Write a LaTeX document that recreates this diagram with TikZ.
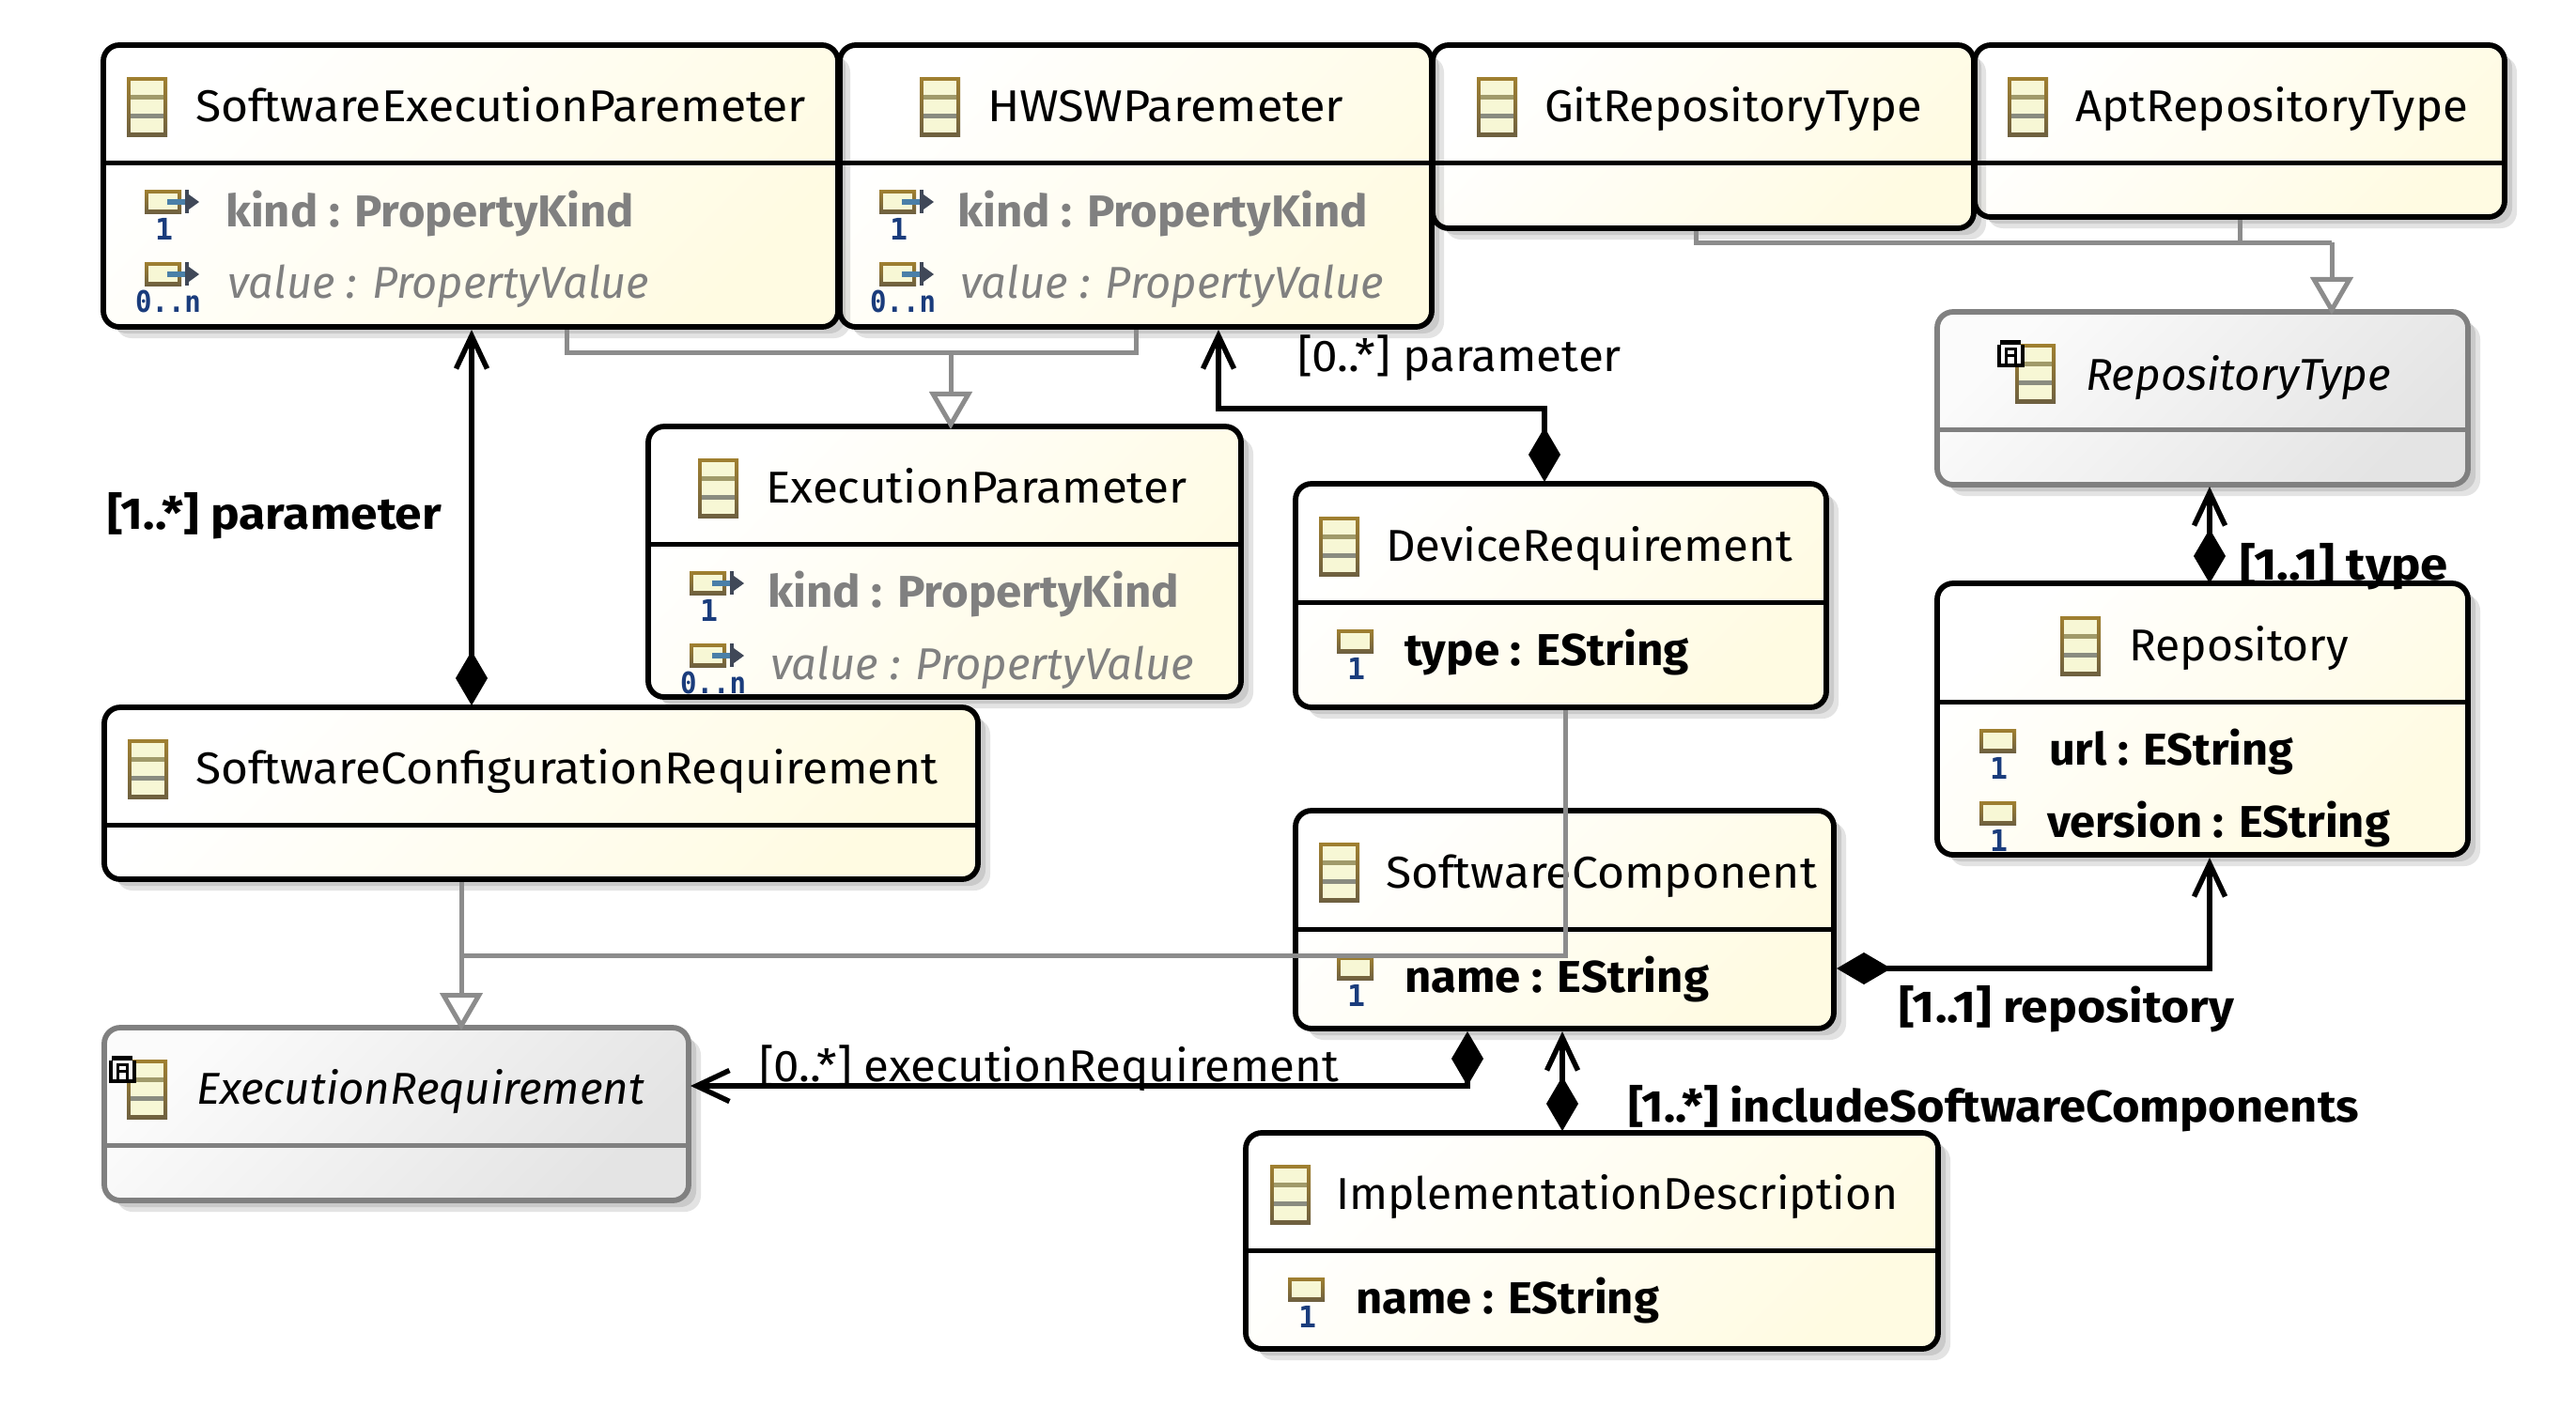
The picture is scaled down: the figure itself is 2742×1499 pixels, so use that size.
\documentclass[tikz,border=0pt]{standalone}
\usepackage{graphicx}
\usepackage{fontspec}
\setmainfont{Fira Sans}
\newfontfamily\multfont{DejaVu Sans Mono}
\usetikzlibrary{calc,shadows,arrows.meta}
\definecolor{yelend}{HTML}{FFFBE2}
\definecolor{grayend}{HTML}{E4E4E4}
\definecolor{graystart}{HTML}{FBFBFB}
\definecolor{edgegray}{HTML}{808080}
\definecolor{connector}{HTML}{8C8C8C}
\definecolor{attrgray}{HTML}{808080}
\definecolor{iconfill}{HTML}{F7F7D5}
\definecolor{icontop}{HTML}{A08030}
\definecolor{iconbot}{HTML}{6E6040}
\definecolor{iconbarA}{HTML}{A09A6A}
\definecolor{iconbarB}{HTML}{8A8C80}
\definecolor{multblue}{HTML}{1A3C7C}
\definecolor{arrblue}{HTML}{4A7FA8}
\definecolor{arrdark}{HTML}{404858}
\newcommand\basefnt{\fontsize{13.5}{16}\selectfont}
\newcount\umltc
\tikzset{
  x=0.01cm,y=-0.01cm,
  boxbase/.style={draw,line width=0.058cm,rounded corners=0.17cm,inner sep=0,outer sep=0,anchor=north west,
    general shadow={shadow xshift=0.13cm,shadow yshift=-0.12cm,fill=black,opacity=.11},
    general shadow={shadow xshift=0.08cm,shadow yshift=-0.07cm,fill=black,opacity=.11}},
  yelbox/.style={boxbase,draw=black,top color=white,bottom color=yelend,shading angle=45},
  absbox/.style={boxbase,draw=edgegray,top color=graystart,bottom color=grayend,shading angle=45},
  txt/.style={inner sep=0,outer sep=0,anchor=base west,font=\basefnt},
  btxt/.style={txt,font=\basefnt\bfseries},
  itxt/.style={txt,font=\basefnt\itshape},
  gtxt/.style={btxt,text=attrgray},
  vtxt/.style={itxt,text=attrgray},
  multxt/.style={inner sep=0,outer sep=0,anchor=base west,text=multblue,font=\fontsize{9}{10}\multfont\bfseries},
  assoc/.style={draw=black,line width=0.055cm},
  diabarb/.style={{Diamond[length=0.58cm,width=0.34cm,fill=black]}-{Straight Barb[length=0.35cm,width=0.33cm,line width=0.055cm]}},
  genline/.style={draw=connector,line width=0.05cm},
  gen/.style={genline,-{Triangle[open,fill=white,length=0.40cm,width=0.45cm,line width=0.05cm]}},
}
% name, x1, y1, x2, y2, divider y, colour style
\newcommand\umlbox[7]{%
  \node[#7,minimum width={(#4-#2-3)*0.01cm},minimum height={(#5-#3-3)*0.01cm}] (#1) at ({#2+2},{#3+1}) {};
  \draw[line width=0.05cm,draw=#1col] ({#2+4},#6) -- ({#4-3},#6);
}
% x1,x2,baseline,text
\newcommand\tx[5][txt]{%
  \global\advance\umltc by 1
  \pgfmathsetlengthmacro\tmpw{((#3)-(#2))*0.01cm}%
  \node[#1] (t\the\umltc) at ({#2},{#4}) {\resizebox{\tmpw}{\height}{#5}};
}
\newcommand\classicon[2]{%
  \shade[top color=icontop,bottom color=iconbot] (#1,#2) rectangle ({#1+43},{#2+63});
  \fill[iconfill] ({#1+4},{#2+4}) rectangle ({#1+39},{#2+59});
  \fill[iconbarA] ({#1+4},{#2+19}) rectangle ({#1+39},{#2+24});
  \fill[iconbarB] ({#1+4},{#2+39}) rectangle ({#1+39},{#2+44});
}
\newcommand\absmark[2]{%
  \fill[black] ({#1+3},#2) rectangle ({#1+25},{#2+5});
  \fill[black] (#1,{#2+5}) rectangle ({#1+29},{#2+29});
  \fill[white] ({#1+4},{#2+5}) rectangle ({#1+25},{#2+25});
  \fill[black] ({#1+8},{#2+8}) rectangle ({#1+21},{#2+11});
  \fill[black] ({#1+8},{#2+15}) rectangle ({#1+21},{#2+18});
  \fill[black] ({#1+8},{#2+8}) rectangle ({#1+11},{#2+25});
  \fill[black] ({#1+18},{#2+8}) rectangle ({#1+21},{#2+25});
}
% x, baseline of row
\newcommand\attricon[2]{%
  \shade[top color=icontop,bottom color=iconbot] (#1,{#2-38}) rectangle ({#1+39},{#2-13});
  \fill[iconfill] ({#1+4},{#2-34}) rectangle ({#1+35},{#2-17});
}
\newcommand\attrarrow[2]{%
  \fill[arrblue] ({#1+24},{#2-28}) rectangle ({#1+44},{#2-22});
  \fill[arrdark] ({#1+43},{#2-38}) rectangle ({#1+47},{#2-13});
  \fill[arrdark] ({#1+47},{#2-33}) -- ({#1+58},{#2-25}) -- ({#1+47},{#2-17}) -- cycle;
}
\newcommand\multone[2]{\tx[multxt]{#1+11}{#1+30}{#2+15}{1}}
\newcommand\multmany[2]{\tx[multxt]{#1-10}{#1+60}{#2+15}{0..n}}
\colorlet{aptcol}{black}\colorlet{gitcol}{black}\colorlet{hwcol}{black}\colorlet{sepcol}{black}
\colorlet{excol}{black}\colorlet{devcol}{black}\colorlet{repocol}{black}\colorlet{cfgcol}{black}
\colorlet{compcol}{black}\colorlet{implcol}{black}
\colorlet{rtcol}{edgegray}\colorlet{ercol}{edgegray}
\begin{document}
\begin{tikzpicture}
\useasboundingbox (0,0) rectangle (2742,1499);
\fill[white] (0,0) rectangle (2742,1499);

% boxes
\umlbox{apt}{2100}{47}{2667}{233}{173}{yelbox}
\umlbox{git}{1523}{47}{2102}{245}{173}{yelbox}
\umlbox{hw}{892}{47}{1525}{350}{173}{yelbox}
\umlbox{sep}{108}{47}{893}{350}{173}{yelbox}
\umlbox{rt}{2060}{331}{2628}{518}{457}{absbox}
\umlbox{ex}{688}{453}{1322}{744}{579}{yelbox}
\umlbox{dev}{1377}{514}{1945}{755}{641}{yelbox}
\umlbox{repo}{2060}{620}{2628}{912}{747}{yelbox}
\umlbox{cfg}{109}{752}{1042}{938}{878}{yelbox}
\umlbox{comp}{1377}{862}{1953}{1097}{989}{yelbox}
\umlbox{er}{109}{1093}{734}{1280}{1219}{absbox}
\umlbox{impl}{1324}{1205}{2064}{1438}{1331}{yelbox}

% class icons
\classicon{135}{82}\classicon{979}{82}\classicon{1572}{82}\classicon{2137}{82}
\classicon{2145}{366}\absmark{2126}{362}
\classicon{743}{488}\classicon{1404}{550}\classicon{2193}{656}\classicon{136}{787}
\classicon{1404}{897}\classicon{135}{1128}\absmark{116}{1124}\classicon{1352}{1240}

% class names
\tx{208}{858}{129}{SoftwareExecutionParemeter}
\tx{1051}{1430}{129}{HWSWParemeter}
\tx{1644}{2046}{129}{GitRepositoryType}
\tx{2209}{2627}{129}{AptRepositoryType}
\tx[itxt]{2220}{2545}{415}{RepositoryType}
\tx{815}{1263}{535}{ExecutionParameter}
\tx{1475}{1908}{597}{DeviceRequirement}
\tx{2266}{2500}{703}{Repository}
\tx{208}{998}{834}{SoftwareConfigurationRequirement}
\tx{1475}{1934}{945}{SoftwareComponent}
\tx[itxt]{209}{686}{1175}{ExecutionRequirement}
\tx{1422}{2020}{1287}{ImplementationDescription}

% attributes
\attricon{154}{240}\attrarrow{154}{240}\multone{154}{240}\tx[gtxt]{240}{675}{241}{kind : PropertyKind}
\attricon{154}{317}\attrarrow{154}{317}\multmany{154}{317}\tx[vtxt]{242}{691}{317}{value : PropertyValue}
\attricon{936}{240}\attrarrow{936}{240}\multone{936}{240}\tx[gtxt]{1019}{1456}{241}{kind : PropertyKind}
\attricon{936}{317}\attrarrow{936}{317}\multmany{936}{317}\tx[vtxt]{1022}{1473}{317}{value : PropertyValue}
\attricon{734}{646}\attrarrow{734}{646}\multone{734}{646}\tx[gtxt]{817}{1255}{646}{kind : PropertyKind}
\attricon{734}{723}\attrarrow{734}{723}\multmany{734}{723}\tx[vtxt]{820}{1271}{723}{value : PropertyValue}
\attricon{1423}{708}\multone{1423}{708}\tx[btxt]{1495}{1798}{708}{type : EString}
\attricon{2107}{814}\multone{2107}{814}\tx[btxt]{2181}{2441}{814}{url : EString}
\attricon{2107}{891}\multone{2107}{891}\tx[btxt]{2179}{2544}{891}{version : EString}
\attricon{1423}{1056}\multone{1423}{1056}\tx[btxt]{1495}{1819}{1056}{name : EString}
\attricon{1371}{1398}\multone{1371}{1398}\tx[btxt]{1443}{1766}{1398}{name : EString}

% generalisations: SEP + HW -> ExecutionParameter
\coordinate (g1) at ($(sep.south west)+(493,3)$);
\coordinate (g2) at ($(hw.south west)+(315,3)$);
\coordinate (j1) at ($(g1)+(0,24)$);
\coordinate (e1) at ($(ex.north west)+(322,3)$);
\draw[genline] (g1) -- (j1) -| (g2);
\draw[gen] (e1 |- j1) -- (e1);

% generalisations: Git + Apt -> RepositoryType
\coordinate (g3) at ($(git.south west)+(280,3)$);
\coordinate (g4) at ($(apt.south west)+(282,3)$);
\coordinate (j2) at ($(g3)+(0,12)$);
\coordinate (r1) at ($(rt.north west)+(420,3)$);
\draw[genline] (g3) -- (j2) -| (r1 |- j2);
\draw[genline] (g4) -- (g4 |- j2);
\draw[gen] (r1 |- j2) -- (r1);

% generalisations: SWConfig + DeviceRequirement -> ExecutionRequirement
\coordinate (c1) at ($(cfg.south west)+(380,3)$);
\coordinate (d1) at ($(dev.south west)+(287,3)$);
\coordinate (e2) at ($(er.north west)+(380,3)$);
\coordinate (j3) at ($(c1)+(0,78)$);
\draw[gen] (c1) -- (e2 |- e2);
\draw[genline] (d1) |- (j3);

% associations
\coordinate (a1) at ($(cfg.north west)+(391,-2)$);
\coordinate (a2) at ($(sep.south west)+(392,3)$);
\draw[assoc,diabarb] (a1) -- (a2);
\coordinate (a3) at ($(dev.north west)+(265,-2)$);
\coordinate (a4) at ($(hw.south west)+(403,3)$);
\draw[assoc,diabarb] (a3) -- ($(a3)+(0,-78)$) -| (a4);
\coordinate (a5) at ($(repo.north west)+(290,0)$);
\coordinate (a6) at ($(rt.south west)+(290,2)$);
\draw[assoc,diabarb] (a5) -- (a6);
\coordinate (a7) at ($(comp.south west)+(183,3)$);
\coordinate (a8) at ($(er.north east)+(2,62)$);
\draw[assoc,diabarb] (a7) |- (a8);
\coordinate (a9) at ($(impl.north west)+(337,-2)$);
\coordinate (a10) at ($(comp.south west)+(284,3)$);
\draw[assoc,diabarb] (a9) -- (a10);
\coordinate (a11) at ($(comp.north east)+(3,168)$);
\coordinate (a12) at ($(repo.south west)+(290,3)$);
\draw[assoc,diabarb] (a11) -| (a12);

% connector labels
\tx{1381}{1726}{395}{[0..*] parameter}
\tx[btxt]{114}{470}{563}{[1..*] parameter}
\tx[btxt]{2384}{2606}{617}{[1..1] type}
\tx{808}{1425}{1151}{[0..*] executionRequirement}
\tx[btxt]{1733}{2511}{1194}{[1..*] includeSoftwareComponents}
\tx[btxt]{2021}{2378}{1088}{[1..1] repository}
\end{tikzpicture}
\end{document}
